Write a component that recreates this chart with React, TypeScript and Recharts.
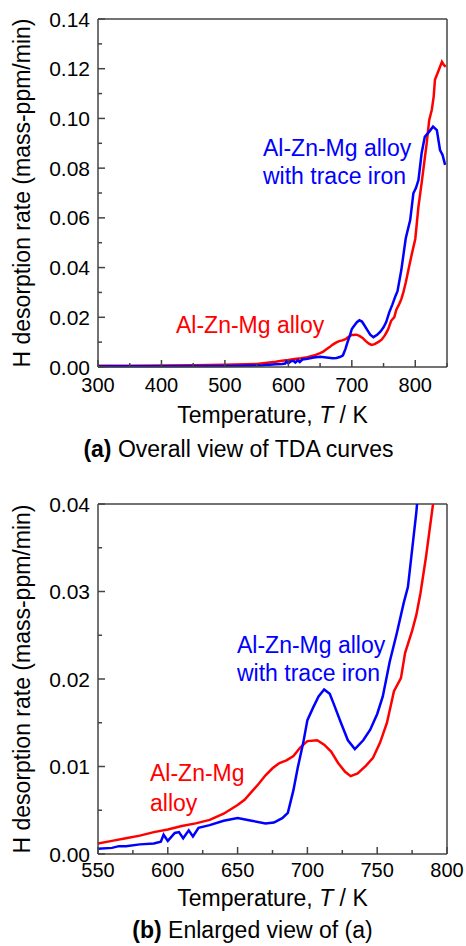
import React from 'react';
import { LineChart, Line, XAxis, YAxis, ReferenceLine } from 'recharts';

// ---- data ----
const redTemps = [300,350,400,450,500,550,560,570,580,590,600,610,620,630,640,650,655,660,665,670,675,680,685,690,695,700,707,712,717,722,727,731,736,742,747,752,757,762,767,770,775,778,781,785,790,795,800,805,810,814,818,822,826,829,831,836,842,845,848];
const redRates = [0.0005,0.0005,0.0006,0.0007,0.0009,0.0012,0.0015,0.0018,0.0021,0.0025,0.0028,0.0032,0.0035,0.0039,0.0046,0.0056,0.0062,0.0071,0.0080,0.0090,0.0098,0.0104,0.0107,0.0112,0.0122,0.0129,0.0130,0.0125,0.0117,0.0104,0.0094,0.0089,0.0092,0.0101,0.0110,0.0127,0.0150,0.0186,0.0201,0.0230,0.0255,0.0273,0.0298,0.0340,0.0400,0.0460,0.0515,0.0645,0.0740,0.0820,0.0900,0.0994,0.1034,0.1087,0.1155,0.1188,0.1228,0.1215,0.1208];

const blueTemps = [300,400,500,550,560,565,570,580,590,595,597,600,605,608,611,615,618,622,630,640,650,660,670,676,682,686,690,693,697,700,704,708,712,716,719,724,729,734,740,745,750,754,759,764,769,772,778,785,792,797,801,805,810,815,822,828,834,839,843,847];
const blueRates = [0.0003,0.0003,0.0004,0.0006,0.0007,0.0009,0.0009,0.0011,0.0012,0.0014,0.0022,0.0015,0.0024,0.0025,0.0018,0.0027,0.0020,0.0030,0.0033,0.0038,0.0041,0.0038,0.0035,0.0036,0.0041,0.0047,0.0073,0.0098,0.0127,0.0153,0.0167,0.0180,0.0188,0.0183,0.0171,0.0150,0.0130,0.0120,0.0130,0.0142,0.0160,0.0180,0.0220,0.0252,0.0287,0.0305,0.0390,0.0518,0.0591,0.0699,0.0720,0.0752,0.0860,0.0926,0.0947,0.0967,0.0953,0.0873,0.0853,0.0813];

const topXTicks = [300,350,400,450,500,550,600,650,700,750,800,850];
const topXLabels = [300,400,500,600,700,800];
const topYTicks = [0,0.01,0.02,0.03,0.04,0.05,0.06,0.07,0.08,0.09,0.10,0.11,0.12,0.13,0.14];
const topYLabels = ['0.00','0.02','0.04','0.06','0.08','0.10','0.12','0.14'];

const botXTicks = [550,575,600,625,650,675,700,725,750,775,800];
const botXLabels = [550,600,650,700,750,800];
const botYTicks = [0,0.005,0.01,0.015,0.02,0.025,0.03,0.035,0.04];
const botYLabels = ['0.00','0.01','0.02','0.03','0.04'];

const seriesNames = ['Al-Zn-Mg alloy', 'Al-Zn-Mg alloy with trace iron'];

const redData = redTemps.map((t, i) => ({ t, v: redRates[i] }));
const blueData = blueTemps.map((t, i) => ({ t, v: blueRates[i] }));

// ---- style ----
const FONT = '"Liberation Sans", Arial, Helvetica, sans-serif';
const AXIS = '#444';
const RED = '#ff0000';
const BLUE = '#0000ff';

const makeXTick = (labels: number[], labelDy: number) => (props: any) => {
  const { x, y, payload } = props;
  const v = payload.value;
  const major = labels.includes(v);
  return (
    <g>
      <line x1={x} x2={x} y1={y} y2={y - (major ? 7 : 4)} stroke={AXIS} strokeWidth={1.5} />
      {major && (
        <text x={x} y={y + labelDy} textAnchor="middle" fontSize={20} fill="#000" fontFamily={FONT}>
          {String(v)}
        </text>
      )}
    </g>
  );
};

const makeYTick = (labels: string[]) => (props: any) => {
  const { x, y, payload } = props;
  const s = Number(payload.value).toFixed(2);
  const major = labels.includes(s) && Math.abs(Number(payload.value) - Number(s)) < 1e-9;
  return (
    <g>
      <line x1={x} x2={x + (major ? 7 : 4)} y1={y} y2={y} stroke={AXIS} strokeWidth={1.5} />
      {major && (
        <text x={x - 8} y={y + 7.5} textAnchor="end" fontSize={21} fill="#000" fontFamily={FONT}>
          {s}
        </text>
      )}
    </g>
  );
};

const W = 466;

function Panel(props: {
  top: number;
  marginTop: number;
  xHeight: number;
  xDomain: [number, number];
  yDomain: [number, number];
  xTicks: number[];
  xLabels: number[];
  yTicks: number[];
  yLabels: string[];
  labelDy: number;
  clip: boolean;
}) {
  const { top, marginTop, xHeight, xDomain, yDomain, xTicks, xLabels, yTicks, yLabels, labelDy, clip } = props;
  return (
    <div style={{ position: 'absolute', left: 0, top }}>
      <LineChart width={W} height={400} margin={{ top: marginTop, right: 19, bottom: 0, left: 0 }}>
        <XAxis
          type="number"
          dataKey="t"
          domain={xDomain}
          ticks={xTicks}
          interval={0}
          allowDataOverflow={clip}
          height={xHeight}
          tickSize={0}
          tickMargin={0}
          tickLine={false}
          axisLine={{ stroke: AXIS, strokeWidth: 1.5 }}
          tick={makeXTick(xLabels, labelDy)}
        />
        <YAxis
          type="number"
          dataKey="v"
          domain={yDomain}
          ticks={yTicks}
          interval={0}
          allowDataOverflow={clip}
          width={98}
          tickSize={0}
          tickMargin={0}
          tickLine={false}
          axisLine={{ stroke: AXIS, strokeWidth: 1.5 }}
          tick={makeYTick(yLabels)}
        />
        <ReferenceLine x={xDomain[1]} stroke={AXIS} strokeWidth={1.5} ifOverflow="visible" />
        <ReferenceLine y={yDomain[1]} stroke={AXIS} strokeWidth={1.5} ifOverflow="visible" />
        <Line
          data={redData}
          dataKey="v"
          name={seriesNames[0]}
          type="linear"
          stroke={RED}
          strokeWidth={2.5}
          dot={false}
          isAnimationActive={false}
        />
        <Line
          data={blueData}
          dataKey="v"
          name={seriesNames[1]}
          type="linear"
          stroke={BLUE}
          strokeWidth={2.5}
          dot={false}
          isAnimationActive={false}
        />
      </LineChart>
    </div>
  );
}

export default function App() {
  const yTitle = 'H desorption rate (mass-ppm/min)';
  return (
    <div style={{ position: 'absolute', left: 0, top: 0, width: W, height: 946, background: '#fff' }}>
      <Panel
        top={0}
        marginTop={19}
        xHeight={33}
        xDomain={[300, 850]}
        yDomain={[0, 0.14]}
        xTicks={topXTicks}
        xLabels={topXLabels}
        yTicks={topYTicks}
        yLabels={topYLabels}
        labelDy={25}
        clip={false}
      />
      <Panel
        top={480}
        marginTop={24}
        xHeight={26}
        xDomain={[550, 800]}
        yDomain={[0, 0.04]}
        xTicks={botXTicks}
        xLabels={botXLabels}
        yTicks={botYTicks}
        yLabels={botYLabels}
        labelDy={23}
        clip={true}
      />
      <svg
        width={W}
        height={946}
        style={{ position: 'absolute', left: 0, top: 0, pointerEvents: 'none' }}
        fontFamily={FONT}
      >
        {/* panel (a) */}
        <text x={30} y={193} transform="rotate(-90 30 193)" textAnchor="middle" fontSize={23} fill="#000">
          {yTitle}
        </text>
        <text x={263} y={156} fontSize={23} fill={BLUE}>Al-Zn-Mg alloy</text>
        <text x={263} y={184} fontSize={23} fill={BLUE}>with trace iron</text>
        <text x={176} y={333} fontSize={23} fill={RED}>Al-Zn-Mg alloy</text>
        <text x={272.5} y={423} textAnchor="middle" fontSize={23} fill="#000">
          Temperature, <tspan fontStyle="italic">T</tspan> / K
        </text>
        <text x={238.5} y={457} textAnchor="middle" fontSize={23} fill="#000">
          <tspan fontWeight="bold">(a)</tspan> Overall view of TDA curves
        </text>
        {/* panel (b) */}
        <text x={30} y={679} transform="rotate(-90 30 679)" textAnchor="middle" fontSize={23} fill="#000">
          {yTitle}
        </text>
        <text x={237} y={653} fontSize={23} fill={BLUE}>Al-Zn-Mg alloy</text>
        <text x={237} y={681} fontSize={23} fill={BLUE}>with trace iron</text>
        <text x={150} y={781} fontSize={23} fill={RED}>Al-Zn-Mg</text>
        <text x={150} y={811} fontSize={23} fill={RED}>alloy</text>
        <text x={272.5} y={906} textAnchor="middle" fontSize={23} fill="#000">
          Temperature, <tspan fontStyle="italic">T</tspan> / K
        </text>
        <text x={252.5} y={938} textAnchor="middle" fontSize={23} fill="#000">
          <tspan fontWeight="bold">(b)</tspan> Enlarged view of (a)
        </text>
      </svg>
    </div>
  );
}
